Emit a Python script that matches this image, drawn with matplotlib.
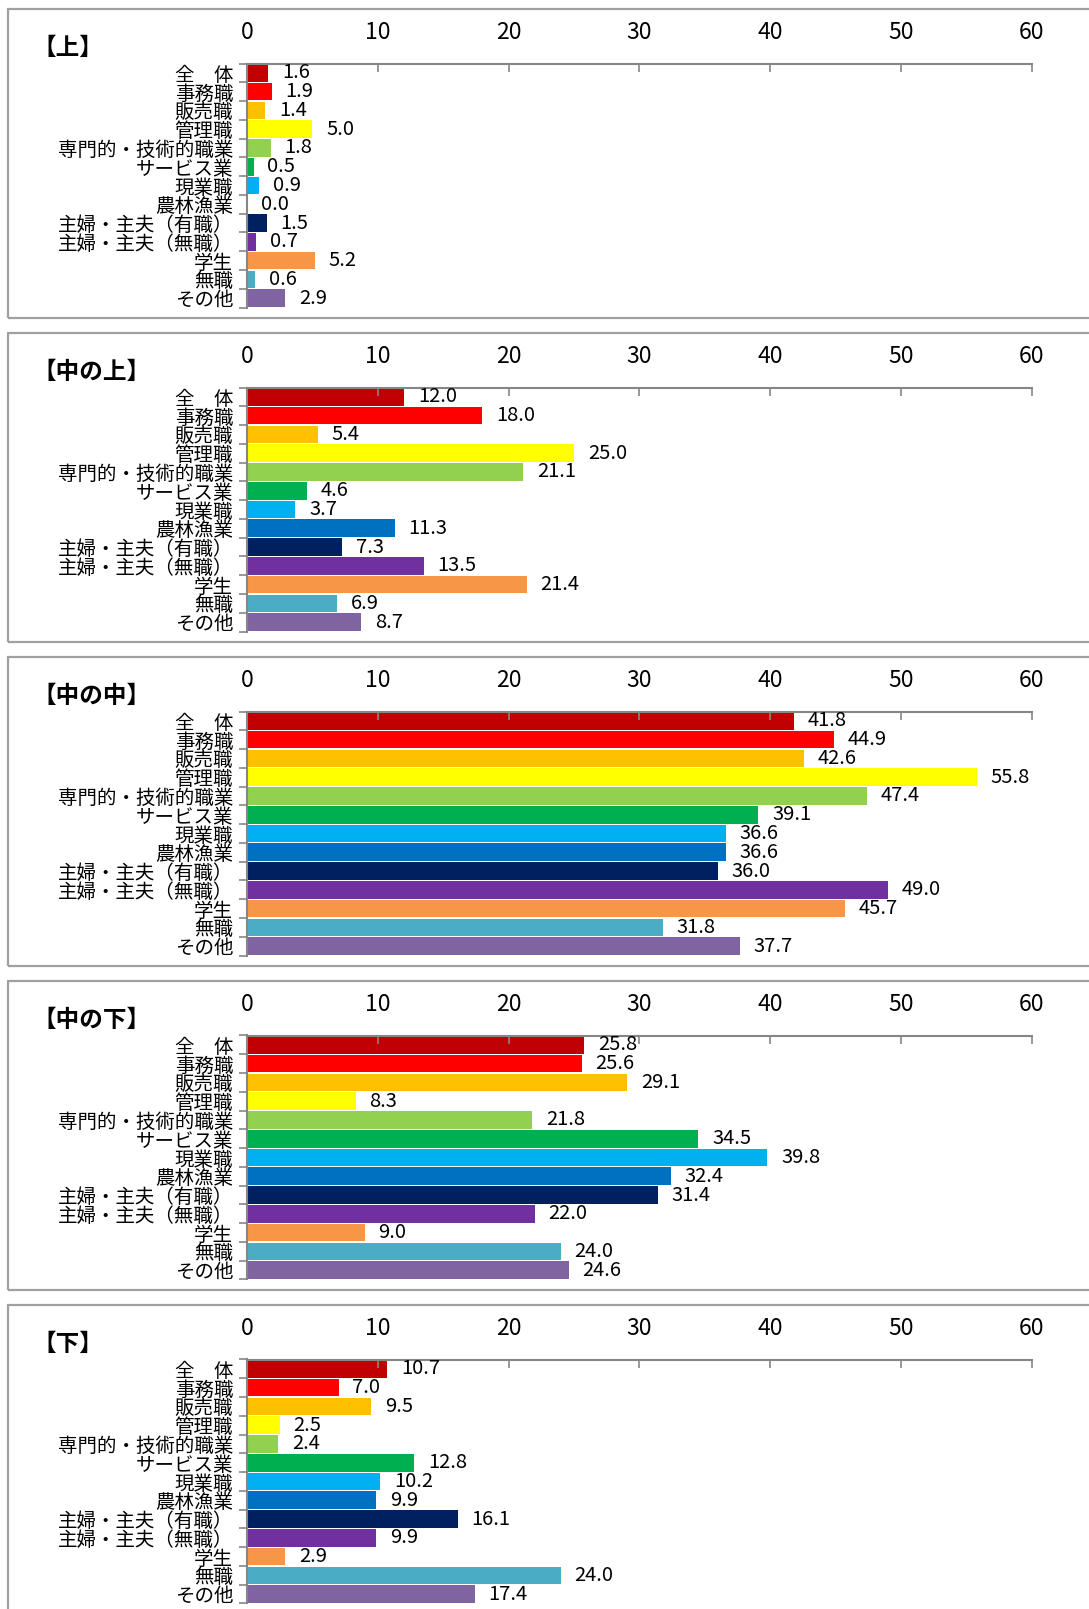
import matplotlib
matplotlib.use("Agg")
import matplotlib.pyplot as plt
from matplotlib.patches import Rectangle
import numpy as np

plt.rcParams['font.family'] = ['Noto Sans CJK JP', 'DejaVu Sans']

categories = ["全　体", "事務職", "販売職", "管理職", "専門的・技術的職業", "サービス業",
              "現業職", "農林漁業", "主婦・主夫（有職）", "主婦・主夫（無職）", "学生", "無職", "その他"]
colors = ["#C00000", "#FF0000", "#FFC000", "#FFFF00", "#92D050", "#00B050",
          "#00B0F0", "#0070C0", "#002060", "#7030A0", "#F79646", "#4BACC6", "#8064A2"]

titles = ["【上】", "【中の上】", "【中の中】", "【中の下】", "【下】"]
val_jou = [1.6, 1.9, 1.4, 5.0, 1.8, 0.5, 0.9, 0.0, 1.5, 0.7, 5.2, 0.6, 2.9]
val_naka_jou = [12.0, 18.0, 5.4, 25.0, 21.1, 4.6, 3.7, 11.3, 7.3, 13.5, 21.4, 6.9, 8.7]
val_naka_naka = [41.8, 44.9, 42.6, 55.8, 47.4, 39.1, 36.6, 36.6, 36.0, 49.0, 45.7, 31.8, 37.7]
val_naka_ge = [25.8, 25.6, 29.1, 8.3, 21.8, 34.5, 39.8, 32.4, 31.4, 22.0, 9.0, 24.0, 24.6]
val_ge = [10.7, 7.0, 9.5, 2.5, 2.4, 12.8, 10.2, 9.9, 16.1, 9.9, 2.9, 24.0, 17.4]
all_values = [val_jou, val_naka_jou, val_naka_naka, val_naka_ge, val_ge]

W, H = 1089, 1609
fig = plt.figure(figsize=(W / 100, H / 100), dpi=100)

grey = "#868686"
step = 324.0
ax_left, ax_right = 247, 1031.5
ax_h = 244

for i, (title, vals) in enumerate(zip(titles, all_values)):
    # panel border
    top = 9 + step * i
    fig.add_artist(Rectangle((8 / W, 1 - (top + 309) / H), 1.2, 309 / H,
                             transform=fig.transFigure, fill=False,
                             edgecolor="#A0A0A0", linewidth=1.6))

    ax_top = 63.5 + step * i
    ax = fig.add_axes([ax_left / W, 1 - (ax_top + ax_h) / H,
                       (ax_right - ax_left) / W, ax_h / H])
    y = np.arange(len(categories))
    ax.barh(y, vals, height=0.94, color=colors)
    ax.set_xlim(0, 60)
    ax.set_ylim(len(categories) - 0.5, -0.5)

    ax.xaxis.tick_top()
    ax.set_xticks(range(0, 61, 10))
    ax.tick_params(axis='x', direction='in', length=6, width=1.2, color=grey,
                   labelsize=16.5, pad=14)
    ax.set_yticks(y)
    ax.set_yticklabels(categories, fontsize=14)
    ax.set_yticks(np.arange(-0.5, len(categories)), minor=True)
    ax.tick_params(axis='y', which='major', length=0, pad=10)
    ax.tick_params(axis='y', which='minor', direction='out', length=6, width=1.2, color=grey)
    for side in ['bottom', 'right']:
        ax.spines[side].set_visible(False)
    for side in ['top', 'left']:
        ax.spines[side].set_color(grey)
        ax.spines[side].set_linewidth(1.5)
    ax.patch.set_visible(False)

    for yi, v in zip(y, vals):
        ax.annotate(f"{v:.1f}", (v, yi), xytext=(10, 0), textcoords='offset points',
                    ha='left', va='center', fontsize=14.5, annotation_clip=False)

    fig.text(32 / W, 1 - (ax_top - 16) / H, title, fontsize=17, fontweight='bold',
             ha='left', va='center')

fig.savefig("out.png", dpi=100)
